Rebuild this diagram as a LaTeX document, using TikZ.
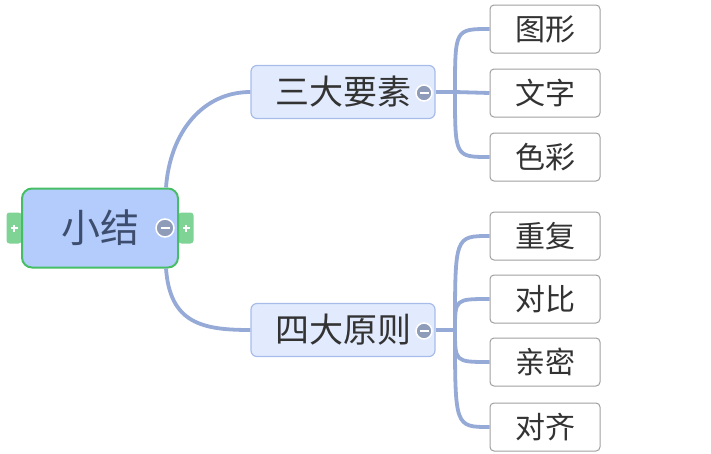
\documentclass[tikz,border=0pt]{standalone}
\usepackage{fontspec}
\setmainfont{Noto Sans CJK SC}

\definecolor{rootfill}{HTML}{B4CCFC}
\definecolor{rootline}{HTML}{45BE66}
\definecolor{roottext}{HTML}{3D4D6D}
\definecolor{branchfill}{HTML}{E2EBFD}
\definecolor{branchline}{HTML}{A8BCEB}
\definecolor{leafline}{HTML}{A0A0A0}
\definecolor{linkc}{HTML}{96AAD7}
\definecolor{foldc}{HTML}{8E9CBA}
\definecolor{tabc}{HTML}{7ED395}

\tikzset{
  root/.style={draw=rootline, fill=rootfill, line width=2pt, rounded corners=10pt,
    minimum width=156pt, minimum height=79pt, text=roottext,
    font=\fontsize{39}{42}\selectfont},
  branch/.style={draw=branchline, fill=branchfill, line width=1.2pt, rounded corners=6pt,
    minimum width=184pt, minimum height=53pt, text=black!80,
    font=\fontsize{34}{38}\selectfont},
  leaf/.style={draw=leafline, fill=white, line width=1pt, rounded corners=4pt,
    minimum width=110pt, minimum height=48pt, text=black!80,
    font=\fontsize{30}{34}\selectfont},
  link/.style={draw=linkc, line width=3.8pt},
  fold/.style={circle, fill=foldc, draw=white, line width=1.5pt, minimum size=16pt, inner sep=0pt,
    path picture={\draw[white, line width=2.2pt]
      ([xshift=-4.5pt]path picture bounding box.center) -- ([xshift=4.5pt]path picture bounding box.center);}},
  tab/.style={fill=tabc, rounded corners=3pt, minimum width=15pt, minimum height=31pt, inner sep=0pt,
    path picture={\draw[white, line width=1.8pt]
      ([xshift=-3.5pt]path picture bounding box.center) -- ([xshift=3.5pt]path picture bounding box.center)
      ([yshift=-3.5pt]path picture bounding box.center) -- ([yshift=3.5pt]path picture bounding box.center);}}
}

\begin{document}
\begin{tikzpicture}[x=1pt, y=-1pt]
    \useasboundingbox (0,0) rectangle (711,453);

    \node[tab] (tL) at (14,228) {};
    \node[tab] (tR) at (186,228) {};
    \node[root] (sM) at (100,228) {小结};
    \node[fold, minimum size=18pt] (fM) at (165,228) {};

    \node[branch] (bA) at (343,92) {三大要素};
    \node[branch] (bB) at (343,330) {四大原则};
    \node[fold] (fA) at (424,93) {};
    \node[fold] (fB) at (424,331) {};

    \node[leaf] (lA) at (545,29)  {图形};
    \node[leaf] (lB) at (545,93)  {文字};
    \node[leaf] (lC) at (545,157) {色彩};

    \node[leaf] (lD) at (545,236) {重复};
    \node[leaf] (lE) at (545,299) {对比};
    \node[leaf] (lF) at (545,362) {亲密};
    \node[leaf] (lG) at (545,427) {对齐};

    \coordinate (jA) at (455,92);
    \coordinate (jB) at (455,330);

    \draw[link] ([xshift=-13pt]sM.north east) .. controls +(4,-55) and +(-48,0) .. (bA.west);
    \draw[link] ([xshift=-13pt]sM.south east) .. controls +(4,55) and +(-48,0) .. (bB.west);

    \draw[link] (bA.east) -- (jA);
    \draw[link] (jA) .. controls (jA |- lA.west) .. (lA.west);
    \draw[link] (jA) -- (lB.west);
    \draw[link] (jA) .. controls (jA |- lC.west) .. (lC.west);

    \draw[link] (bB.east) -- (jB);
    \draw[link] (jB) .. controls (jB |- lD.west) .. (lD.west);
    \draw[link] (jB) .. controls (jB |- lE.west) .. (lE.west);
    \draw[link] (jB) .. controls (jB |- lF.west) .. (lF.west);
    \draw[link] (jB) .. controls (jB |- lG.west) .. (lG.west);
\end{tikzpicture}
\end{document}
